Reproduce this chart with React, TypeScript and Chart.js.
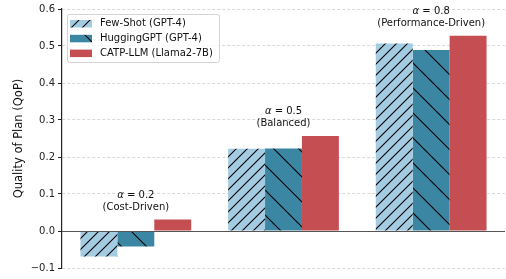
import React, { useEffect, useRef } from "react";
import { Chart, registerables } from "chart.js";

Chart.register(...registerables);

const categories = ["α = 0.2", "α = 0.5", "α = 0.8"];
const alphaValues = ["0.2", "0.5", "0.8"];
const groupNotes = ["(Cost-Driven)", "(Balanced)", "(Performance-Driven)"];
const seriesLabels = ["Few-Shot (GPT-4)", "HuggingGPT (GPT-4)", "CATP-LLM (Llama2-7B)"];
const fewShot = [-0.069, 0.222, 0.507];
const huggingGPT = [-0.042, 0.223, 0.489];
const catpLLM = [0.031, 0.257, 0.528];
const yTicks = [-0.1, 0.0, 0.1, 0.2, 0.3, 0.4, 0.5, 0.6];

const FONT = '"DejaVu Sans", sans-serif';

function makePattern(color: string, dir: "/" | "\\", s: number): CanvasPattern | string {
  const c = document.createElement("canvas");
  c.width = s;
  c.height = s;
  const g = c.getContext("2d");
  if (!g) return color;
  g.fillStyle = color;
  g.fillRect(0, 0, s, s);
  g.strokeStyle = "#000";
  g.lineWidth = 1.1;
  g.beginPath();
  if (dir === "/") {
    g.moveTo(-2, s + 2);
    g.lineTo(s + 2, -2);
    g.moveTo(-2, 2);
    g.lineTo(2, -2);
    g.moveTo(s - 2, s + 2);
    g.lineTo(s + 2, s - 2);
  } else {
    g.moveTo(-2, -2);
    g.lineTo(s + 2, s + 2);
    g.moveTo(s - 2, -2);
    g.lineTo(s + 2, 2);
    g.moveTo(-2, s - 2);
    g.lineTo(2, s + 2);
  }
  g.stroke();
  const p = g.createPattern(c, "repeat");
  return p || color;
}

export default function App() {
  const ref = useRef<HTMLCanvasElement>(null);

  useEffect(() => {
    document.body.style.margin = "0";
    const canvas = ref.current;
    if (!canvas) return;

    const colors = ["#a3cce3", "#3b87a3", "#c44e52"];
    const fills = [
      makePattern(colors[0], "/", 11),
      makePattern(colors[1], "\\", 25),
      colors[2],
    ];
    const series = [fewShot, huggingGPT, catpLLM];

    const zeroLine = {
      id: "zeroLine",
      afterDatasetsDraw(chart: any) {
        const { ctx, chartArea, scales } = chart;
        const y = Math.round(scales.y.getPixelForValue(0)) + 0.5;
        ctx.save();
        ctx.strokeStyle = "#555555";
        ctx.lineWidth = 1.2;
        ctx.beginPath();
        ctx.moveTo(chartArea.left, y);
        ctx.lineTo(chartArea.right, y);
        ctx.stroke();
        ctx.restore();
      },
    };

    const notes = {
      id: "notes",
      afterDatasetsDraw(chart: any) {
        const { ctx, scales } = chart;
        ctx.save();
        ctx.fillStyle = "#111";
        ctx.textBaseline = "middle";
        categories.forEach((_, i) => {
          const cx = scales.x.getPixelForValue(i);
          const mx = Math.max(...series.map((s) => s[i]));
          const top = scales.y.getPixelForValue(mx);
          ctx.font = `italic 10px ${FONT}`;
          const a = "α";
          const wa = ctx.measureText(a).width;
          ctx.font = `10px ${FONT}`;
          const rest = " = " + alphaValues[i];
          const wr = ctx.measureText(rest).width;
          const x0 = cx - (wa + wr) / 2;
          const y1 = top - 24.5;
          ctx.textAlign = "left";
          ctx.font = `italic 10px ${FONT}`;
          ctx.fillText(a, x0, y1);
          ctx.font = `10px ${FONT}`;
          ctx.fillText(rest, x0 + wa, y1);
          ctx.textAlign = "center";
          ctx.fillText(groupNotes[i], cx, top - 12.5);
        });
        ctx.restore();
      },
    };

    const legendBox = {
      id: "legendBox",
      afterDraw(chart: any) {
        const { ctx, chartArea } = chart;
        const x = chartArea.left + 5;
        const y = chartArea.top + 5.5;
        const w = 152;
        const h = 48;
        ctx.save();
        ctx.beginPath();
        if ((ctx as any).roundRect) (ctx as any).roundRect(x + 0.5, y, w, h, 2);
        else ctx.rect(x + 0.5, y, w, h);
        ctx.fillStyle = "rgba(255,255,255,0.8)";
        ctx.fill();
        ctx.strokeStyle = "#d4d4d4";
        ctx.lineWidth = 1;
        ctx.stroke();
        ctx.font = `10px ${FONT}`;
        ctx.textBaseline = "middle";
        ctx.textAlign = "left";
        chart.data.datasets.forEach((ds: any, i: number) => {
          const cy = y + 9 + i * 14.8;
          ctx.fillStyle = ds.backgroundColor;
          ctx.fillRect(x + 3, cy - 3.5, 22, 7.5);
          ctx.fillStyle = "#111";
          ctx.fillText(ds.label, x + 33, cy);
        });
        ctx.restore();
      },
    };

    const chart = new Chart(canvas, {
      type: "bar",
      data: {
        labels: categories,
        datasets: series.map((vals, i) => ({
          label: seriesLabels[i],
          data: vals,
          backgroundColor: fills[i] as any,
          borderWidth: 0,
          categoryPercentage: 0.75,
          barPercentage: 1.0,
        })),
      },
      options: {
        animation: false,
        responsive: false,
        maintainAspectRatio: false,
        layout: { padding: { top: 5, bottom: 11, left: 0, right: 1 } },
        plugins: {
          legend: { display: false },
          tooltip: { enabled: false },
        },
        scales: {
          x: {
            display: false,
            grid: { display: false },
          },
          y: {
            min: -0.1,
            max: 0.6,
            afterBuildTicks: (scale: any) => {
              scale.ticks = yTicks.map((v) => ({ value: v }));
            },
            afterFit: (scale: any) => {
              scale.width = 62;
            },
            ticks: {
              color: "#222",
              font: { family: FONT, size: 10 },
              padding: 3,
              callback: (v: any) => Number(v).toFixed(1).replace("-", "−"),
            },
            grid: {
              color: "#cfcfcf",
              lineWidth: 0.8,
              tickColor: "#222",
              tickLength: 4,
              tickWidth: 1,
              tickBorderDash: [],
            },
            border: {
              display: true,
              color: "#222",
              width: 1.2,
              dash: [3, 2],
            },
            title: {
              display: true,
              text: "Quality of Plan (QoP)",
              color: "#111",
              font: { family: FONT, size: 11.5 },
              padding: { top: 12, bottom: 0 },
            },
          },
        },
      },
      plugins: [zeroLine, notes, legendBox],
    });

    return () => chart.destroy();
  }, []);

  return <canvas ref={ref} width={506} height={279} style={{ display: "block" }} />;
}
